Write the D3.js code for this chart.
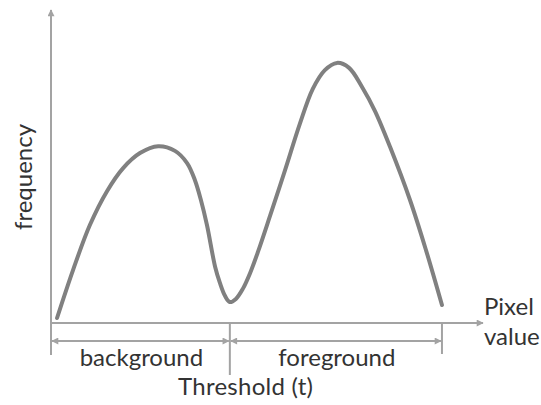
<!DOCTYPE html>
<html>
<head>
<meta charset="utf-8">
<script src="https://cdn.jsdelivr.net/npm/d3@7"></script>
<style>
  html, body { margin: 0; padding: 0; background: #fff; }
  svg { display: block; }
  text { font-family: Lato, "Open Sans", sans-serif; fill: #333; }
</style>
</head>
<body>
<svg id="chart" width="541" height="405"></svg>
<script>
// Histogram curve (pixel value, frequency), both on 0..100 scales
const pixelValues = [1.4, 5.1, 9.0, 13.0, 16.7, 20.6, 24.8, 28.7, 31.5, 33.3, 34.7, 36.1, 38.0, 39.1, 40.3, 41.4, 42.8, 44.4, 46.1, 47.9, 50.7, 54.2, 57.6, 60.6, 63.4, 66.2, 69.0, 72.0, 75.0, 78.5, 83.1, 86.8, 90.5];
const frequencies = [1.6, 16.9, 31.3, 42.2, 49.5, 54.3, 56.5, 55.0, 51.1, 45.7, 39.3, 31.3, 17.9, 12.8, 8.6, 6.7, 7.7, 10.9, 16.0, 22.7, 34.2, 48.9, 63.6, 74.8, 80.8, 83.1, 81.5, 75.4, 67.7, 56.2, 39.3, 23.3, 5.75];

const thresholdValue = 41.4;
const foregroundEnd = 90.5;
const regionLabels = ["background", "foreground"];
const yAxisLabel = "frequency";
const xAxisLabel = ["Pixel", "value"];
const thresholdLabel = "Threshold (t)";

const svg = d3.select("#chart");

const x = d3.scaleLinear().domain([0, 100]).range([51, 483]);
const y = d3.scaleLinear().domain([0, 100]).range([323, 10]);

const axisColor = "#a3a3a3";
const curveColor = "#808080";

const defs = svg.append("defs");
defs.append("marker")
  .attr("id", "arrow")
  .attr("viewBox", "0 0 10 10")
  .attr("refX", 9).attr("refY", 5)
  .attr("markerUnits", "userSpaceOnUse")
  .attr("markerWidth", 8).attr("markerHeight", 7)
  .attr("orient", "auto-start-reverse")
  .append("path")
  .attr("d", "M0,0 L10,5 L0,10 Z")
  .attr("fill", axisColor);

const g = svg.append("g");

// y axis
g.append("line")
  .attr("x1", x(0)).attr("x2", x(0))
  .attr("y1", 355).attr("y2", y(100))
  .attr("stroke", axisColor).attr("stroke-width", 2)
  .attr("marker-end", "url(#arrow)");

// x axis
g.append("line")
  .attr("x1", x(0)).attr("x2", x(100))
  .attr("y1", y(0)).attr("y2", y(0))
  .attr("stroke", axisColor).attr("stroke-width", 2)
  .attr("marker-end", "url(#arrow)");

// threshold line
g.append("line")
  .attr("x1", x(thresholdValue)).attr("x2", x(thresholdValue))
  .attr("y1", y(0)).attr("y2", 375)
  .attr("stroke", axisColor).attr("stroke-width", 2);

// foreground end tick
g.append("line")
  .attr("x1", x(foregroundEnd)).attr("x2", x(foregroundEnd))
  .attr("y1", y(0)).attr("y2", 354)
  .attr("stroke", axisColor).attr("stroke-width", 2);

// range brackets
const bracketY = 341;
const ranges = [[0, thresholdValue], [thresholdValue, foregroundEnd]];
g.selectAll(".bracket").data(ranges).join("line")
  .attr("class", "bracket")
  .attr("x1", d => x(d[0]) + 1).attr("x2", d => x(d[1]) - 1)
  .attr("y1", bracketY).attr("y2", bracketY)
  .attr("stroke", axisColor).attr("stroke-width", 2)
  .attr("marker-start", "url(#arrow)")
  .attr("marker-end", "url(#arrow)");

// curve
const pts = pixelValues.map((v, i) => [v, frequencies[i]]);
const line = d3.line()
  .x(d => x(d[0])).y(d => y(d[1]))
  .curve(d3.curveCatmullRom.alpha(0.5));
g.append("path")
  .attr("d", line(pts))
  .attr("fill", "none")
  .attr("stroke", curveColor)
  .attr("stroke-width", 4)
  .attr("stroke-linecap", "round")
  .attr("stroke-linejoin", "round");

// labels
const fs = 24;
g.selectAll(".region").data(ranges).join("text")
  .attr("class", "region")
  .attr("x", d => (x(d[0]) + x(d[1])) / 2 + 1)
  .attr("y", 366)
  .attr("text-anchor", "middle")
  .attr("font-size", fs)
  .text((d, i) => regionLabels[i]);

g.append("text")
  .attr("x", 178)
  .attr("y", 395)
  .attr("text-anchor", "start")
  .attr("font-size", fs)
  .attr("textLength", 135)
  .attr("lengthAdjust", "spacing")
  .text(thresholdLabel);

g.append("text")
  .attr("transform", `translate(32,177) rotate(-90)`)
  .attr("text-anchor", "middle")
  .attr("font-size", fs)
  .text(yAxisLabel);

g.selectAll(".xlab").data(xAxisLabel).join("text")
  .attr("class", "xlab")
  .attr("x", 484)
  .attr("y", (d, i) => 315 + i * 30)
  .attr("font-size", fs)
  .text(d => d);
</script>
</body>
</html>
